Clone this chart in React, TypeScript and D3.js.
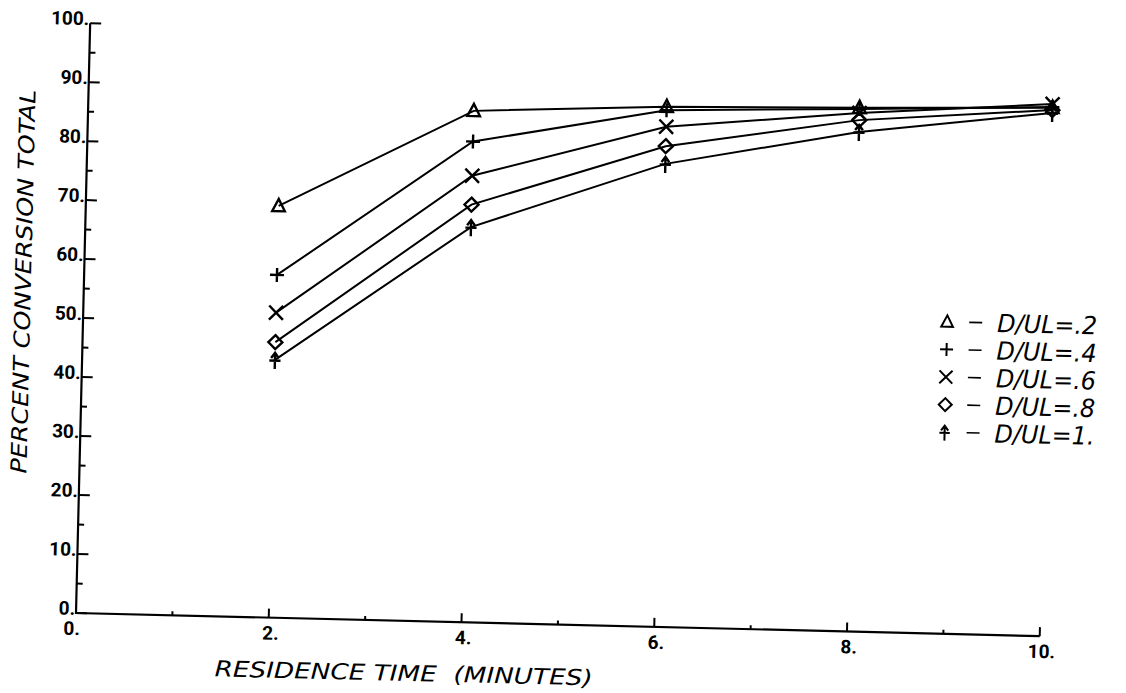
import React, { useEffect, useRef } from 'react';
import * as d3 from 'd3';

// residence time (minutes) and percent conversion for each D/UL value
const residenceTimes = [2, 4, 6, 8, 10];
const convDUL02 = [69.8, 86.7, 88.2, 88.8, 89.6];
const convDUL04 = [58.1, 81.5, 87.6, 88.6, 89.7];
const convDUL06 = [51.7, 75.7, 84.8, 87.9, 90.2];
const convDUL08 = [46.7, 70.8, 81.5, 86.7, 89.2];
const convDUL10 = [43.7, 67.0, 78.5, 84.7, 88.7];

const seriesNames = ['D/UL=.2', 'D/UL=.4', 'D/UL=.6', 'D/UL=.8', 'D/UL=1.'];
const markerKinds = ['triangle', 'plus', 'cross', 'diamond', 'arrow'];

const xTickLabels = ['0.', '2.', '4.', '6.', '8.', '10.'];
const yTickLabels = ['0.', '10.', '20.', '30.', '40.', '50.', '60.', '70.', '80.', '90.', '100.'];

const markerPath = (kind: string, s: number) => {
    switch (kind) {
        case 'triangle':
            return `M0,${-s}L${s * 0.9},${s * 0.75}L${-s * 0.9},${s * 0.75}Z`;
        case 'plus':
            return `M${-s},0H${s}M0,${-s}V${s}`;
        case 'cross':
            return `M${-s},${-s}L${s},${s}M${s},${-s}L${-s},${s}`;
        case 'diamond':
            return `M0,${-s}L${s},0L0,${s}L${-s},0Z`;
        default:
            // plus with an arrow head on top
            return `M0,${-s}V${s * 1.3}M${-s * 0.8},${s * 0.1}H${s * 0.8}M${-s * 0.55},${-s * 0.25}L0,${-s}L${s * 0.55},${-s * 0.25}`;
    }
};

const App = () => {
    const svgRef = useRef<SVGSVGElement>(null);

    useEffect(() => {
        const svg = d3.select(svgRef.current);
        svg.selectAll('*').remove();

        const width = 1126;
        const height = 693;
        const origin = { x: 76, y: 613 };
        const tilt = 1.375; // scanned page is slightly rotated
        const plotW = 964;
        const plotH = 590;

        svg.attr('width', width).attr('height', height);

        const xScale = d3.scaleLinear().domain([0, 10]).range([0, plotW]);
        const yScale = d3.scaleLinear().domain([0, 100]).range([0, -plotH]);

        const g = svg
            .append('g')
            .attr('transform', `translate(${origin.x},${origin.y}) rotate(${tilt})`);

        // axes lines
        g.append('path')
            .attr('d', `M0,${yScale(100)}V0H${xScale(10)}`)
            .attr('fill', 'none')
            .attr('stroke', '#000')
            .attr('stroke-width', 2.2);

        // y ticks (major every 10, minor every 5)
        d3.range(0, 101, 5).forEach((v) => {
            const major = v % 10 === 0;
            g.append('line')
                .attr('x1', 0)
                .attr('x2', major ? 11 : 6)
                .attr('y1', yScale(v))
                .attr('y2', yScale(v))
                .attr('stroke', '#000')
                .attr('stroke-width', 2);
        });
        g.selectAll('.ylab')
            .data(yTickLabels)
            .join('text')
            .attr('class', 'ylab')
            .attr('x', -1)
            .attr('y', (d, i) => yScale(i * 10) + 2)
            .attr('text-anchor', 'end')
            .attr('font-family', 'Roboto')
            .attr('font-weight', 'bold')
            .attr('font-size', 19)
            .text((d) => d);

        // x ticks (major every 2, minor every 1)
        d3.range(0, 11, 1).forEach((v) => {
            if (v === 0) return;
            const major = v % 2 === 0;
            g.append('line')
                .attr('x1', xScale(v))
                .attr('x2', xScale(v))
                .attr('y1', 0)
                .attr('y2', major ? -9 : -4)
                .attr('stroke', '#000')
                .attr('stroke-width', 2);
        });
        g.selectAll('.xlab')
            .data(xTickLabels)
            .join('text')
            .attr('class', 'xlab')
            .attr('x', (d, i) => xScale(i * 2) + (i === 0 ? -4 : 2))
            .attr('y', 22)
            .attr('text-anchor', 'middle')
            .attr('font-family', 'Roboto')
            .attr('font-weight', 'bold')
            .attr('font-size', 19)
            .text((d) => d);

        // axis titles
        g.append('text')
            .attr('x', 140)
            .attr('y', 60)
            .attr('font-family', 'DejaVu Sans')
            .attr('font-style', 'italic')
            .attr('font-size', 22)
            .attr('textLength', 378)
            .attr('lengthAdjust', 'spacingAndGlyphs')
            .attr('xml:space', 'preserve')
            .text('RESIDENCE TIME  (MINUTES)');

        g.append('text')
            .attr('transform', `translate(-53,-330) rotate(-90)`)
            .attr('text-anchor', 'middle')
            .attr('font-family', 'DejaVu Sans')
            .attr('font-style', 'italic')
            .attr('font-size', 22)
            .attr('textLength', 384)
            .attr('lengthAdjust', 'spacingAndGlyphs')
            .text('PERCENT CONVERSION TOTAL');

        // series
        const allSeries = [convDUL02, convDUL04, convDUL06, convDUL08, convDUL10];
        const line = d3
            .line<number>()
            .x((d, i) => xScale(residenceTimes[i]))
            .y((d) => yScale(d));

        allSeries.forEach((vals, si) => {
            g.append('path')
                .datum(vals)
                .attr('d', line)
                .attr('fill', 'none')
                .attr('stroke', '#000')
                .attr('stroke-width', 2);

            g.selectAll(`.mk${si}`)
                .data(vals)
                .join('path')
                .attr('class', `mk${si}`)
                .attr('transform', (d, i) => `translate(${xScale(residenceTimes[i])},${yScale(d)})`)
                .attr('d', markerPath(markerKinds[si], 7))
                .attr('fill', 'none')
                .attr('stroke', '#000')
                .attr('stroke-width', 2.4);
        });

        // legend
        const legend = g.append('g').attr('transform', 'translate(864,-312)');
        seriesNames.forEach((name, i) => {
            const row = legend.append('g').attr('transform', `translate(0,${i * 27.6})`);
            row.append('path')
                .attr('d', markerPath(markerKinds[i], 6.5))
                .attr('fill', 'none')
                .attr('stroke', '#000')
                .attr('stroke-width', 2);
            row.append('line')
                .attr('x1', 22)
                .attr('x2', 35)
                .attr('y1', 0)
                .attr('y2', 0)
                .attr('stroke', '#000')
                .attr('stroke-width', 1.6);
            row.append('text')
                .attr('x', 50)
                .attr('y', 9)
                .attr('font-family', 'DejaVu Sans')
                .attr('font-style', 'italic')
                .attr('font-size', 25)
                .attr('textLength', 100)
                .attr('lengthAdjust', 'spacingAndGlyphs')
                .text(name);
        });
    }, []);

    return (
        <div>
            <svg ref={svgRef} style={{ position: 'absolute', left: 0, top: 0, background: '#fff' }}></svg>
        </div>
    );
};

export default App;
